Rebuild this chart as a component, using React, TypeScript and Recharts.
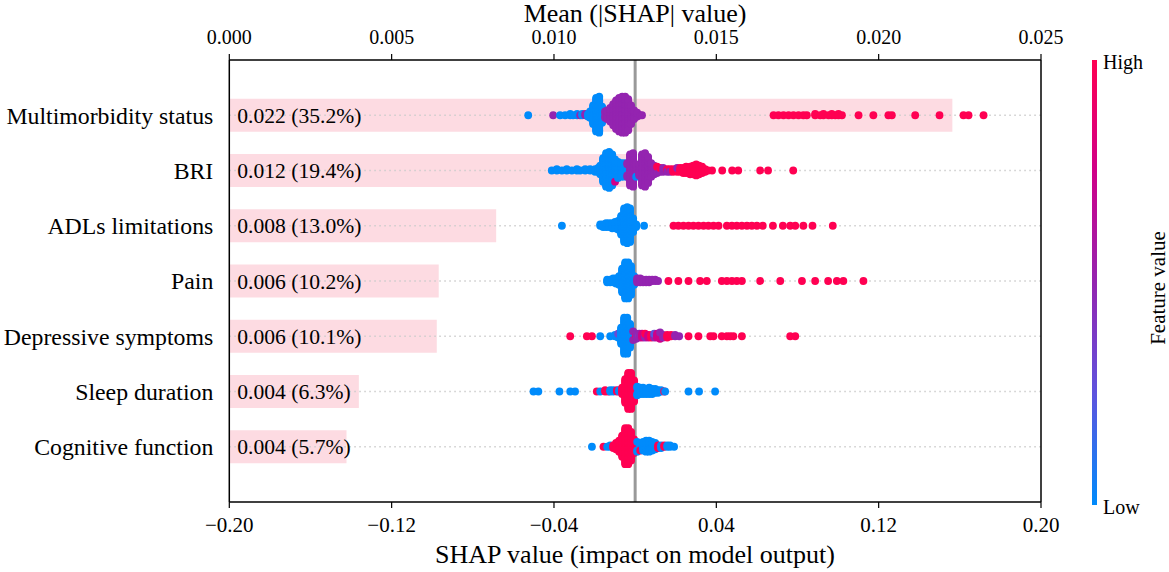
import React from "react";
import {
  ScatterChart,
  Scatter,
  XAxis,
  YAxis,
  ReferenceArea,
  ReferenceLine,
} from "recharts";

const FONT = '"Liberation Serif", "Times New Roman", serif';

// Features, top to bottom
const features = [
  "Multimorbidity status",
  "BRI",
  "ADLs limitations",
  "Pain",
  "Depressive symptoms",
  "Sleep duration",
  "Cognitive function",
];

// Mean |SHAP| per feature (top axis) and its share of the total
const meanAbsShap = [0.02227, 0.01227, 0.00822, 0.00645, 0.00639, 0.00399, 0.00361];
const meanPct = [35.2, 19.4, 13.0, 10.2, 10.1, 6.3, 5.7];

const shapTicks = [-0.2, -0.12, -0.04, 0.04, 0.12, 0.2];
const meanTicks = [0, 0.005, 0.01, 0.015, 0.02, 0.025];

// [SHAP value, number of samples, feature value 0 (low) .. 1 (high)]
type Group = [number, number, number];

const multimorbidity: Group[] = [
  [-0.0527, 1, 0], [-0.0404, 1, 0.5], [-0.037, 1, 0], [-0.0345, 1, 0], [-0.032, 2, 0],
  [-0.0306, 1, 0], [-0.0286, 2, 0], [-0.0271, 1, 0.5], [-0.0261, 2, 0], [-0.0246, 2, 0.5],
  [-0.0232, 3, 0], [-0.0222, 6, 0], [-0.0207, 16, 0], [-0.0192, 28, 0], [-0.0177, 30, 0],
  [-0.0163, 14, 0], [-0.0148, 2, 0], [-0.0148, 4, 0.5], [-0.0138, 8, 0.5], [-0.0123, 12, 0.5],
  [-0.0108, 18, 0.5], [-0.0094, 24, 0.5], [-0.0079, 28, 0.5], [-0.0064, 30, 0.5], [-0.0049, 30, 0.5],
  [-0.0034, 26, 0.5], [-0.002, 16, 0.5], [-0.0005, 8, 0.5], [0.001, 4, 0.5], [0.0025, 1, 0.5],
  [0.0034, 1, 0.5],
  [0.0682, 1, 1], [0.0706, 1, 1], [0.0731, 1, 1], [0.0756, 1, 1], [0.078, 1, 1],
  [0.0805, 1, 1], [0.0829, 1, 1], [0.0846, 1, 1], [0.0887, 2, 1], [0.0912, 1, 1],
  [0.0928, 2, 1], [0.0953, 1, 1], [0.0969, 2, 1], [0.0986, 1, 1], [0.1002, 2, 1],
  [0.1019, 1, 1], [0.1101, 1, 1], [0.1174, 1, 1], [0.1248, 1, 1], [0.1265, 1, 1],
  [0.138, 1, 1], [0.15, 1, 1], [0.1618, 1, 1], [0.1643, 1, 1], [0.1717, 1, 1],
];

const bri: Group[] = [
  [-0.0411, 1, 0], [-0.0386, 2, 0], [-0.0361, 1, 0], [-0.0337, 2, 0], [-0.0312, 1, 0],
  [-0.0287, 2, 0], [-0.0271, 1, 0], [-0.0246, 2, 0], [-0.0222, 2, 0], [-0.0197, 3, 0],
  [-0.0182, 4, 0], [-0.0172, 8, 0], [-0.0158, 20, 0], [-0.0143, 28, 0], [-0.0128, 30, 0],
  [-0.0113, 26, 0], [-0.0099, 18, 0], [-0.0099, 1, 0.75], [-0.0084, 14, 0], [-0.0069, 12, 0],
  [-0.0054, 12, 0], [-0.0039, 8, 0], [-0.0039, 4, 0.5], [-0.0025, 26, 0.5], [-0.001, 28, 0.5],
  [0.0005, 10, 0.5], [0.0005, 1, 0], [0.002, 10, 0.5], [0.0034, 26, 0.5], [0.0049, 28, 0.5],
  [0.0064, 22, 0.5], [0.0079, 12, 0.5], [0.0094, 8, 0.5], [0.0108, 5, 0.5], [0.0108, 1, 1],
  [0.0123, 3, 0.5], [0.0123, 1, 1], [0.0138, 2, 1], [0.0138, 2, 0.5], [0.0158, 2, 1],
  [0.0158, 1, 0.5], [0.0172, 2, 1], [0.0172, 1, 0.5], [0.0187, 3, 1], [0.0207, 3, 1],
  [0.0207, 1, 0.5], [0.0222, 4, 1], [0.0237, 5, 1], [0.0251, 6, 1], [0.0271, 7, 1],
  [0.0286, 8, 1], [0.0301, 10, 1], [0.0315, 8, 1], [0.033, 6, 1], [0.0345, 3, 1],
  [0.036, 1, 1], [0.0379, 1, 1], [0.0429, 1, 1], [0.0478, 1, 1], [0.0508, 1, 1],
  [0.0616, 1, 1], [0.0655, 1, 1], [0.0779, 1, 1],
];

const adls: Group[] = [
  [-0.0361, 1, 0], [-0.0172, 2, 0], [-0.0158, 3, 0], [-0.0143, 4, 0], [-0.0128, 4, 0],
  [-0.0113, 5, 0], [-0.0099, 6, 0], [-0.0084, 8, 0], [-0.0069, 16, 0], [-0.0054, 28, 0],
  [-0.0039, 30, 0], [-0.0025, 28, 0], [-0.001, 12, 0], [0.0005, 3, 0], [0.0044, 1, 0],
  [0.0189, 1, 1], [0.0213, 1, 1], [0.0238, 1, 1], [0.0263, 1, 1], [0.0287, 1, 1],
  [0.0312, 1, 1], [0.0337, 1, 1], [0.0361, 1, 1], [0.0386, 1, 1], [0.0411, 1, 1],
  [0.0452, 1, 1], [0.0477, 1, 1], [0.0501, 1, 1], [0.0526, 1, 1], [0.0551, 1, 1],
  [0.0575, 1, 1], [0.06, 1, 1], [0.0629, 1, 1], [0.0679, 1, 1], [0.0728, 1, 1],
  [0.0764, 1, 1], [0.0789, 1, 1], [0.0829, 1, 1], [0.0874, 1, 1], [0.0974, 1, 1],
];

const pain: Group[] = [
  [-0.0138, 3, 0], [-0.0123, 3, 0], [-0.0108, 4, 0], [-0.0094, 5, 0], [-0.0079, 8, 0],
  [-0.0064, 20, 0], [-0.0049, 30, 0], [-0.0034, 30, 0], [-0.002, 24, 0], [-0.0005, 8, 0],
  [0.001, 4, 0.5], [0.0025, 4, 0.5], [0.0039, 3, 0.5], [0.0054, 3, 0.5], [0.0069, 3, 0.5],
  [0.0084, 2, 0.5], [0.0099, 2, 0.5], [0.0113, 1, 0.5],
  [0.0164, 1, 1], [0.0213, 1, 1], [0.0263, 1, 1], [0.032, 1, 1], [0.0353, 1, 1],
  [0.0427, 1, 1], [0.0452, 1, 1], [0.0477, 1, 1], [0.0501, 1, 1], [0.0526, 1, 1],
  [0.0616, 1, 1], [0.0715, 1, 1], [0.0822, 1, 1], [0.0887, 1, 1], [0.0951, 1, 1],
  [0.0994, 1, 1], [0.1026, 1, 1], [0.1125, 1, 1],
];

const depressive: Group[] = [
  [-0.032, 1, 1], [-0.0238, 1, 1], [-0.0213, 1, 1], [-0.0172, 1, 0], [-0.0123, 1, 0],
  [-0.0099, 2, 0], [-0.0084, 3, 0], [-0.0084, 1, 0.3], [-0.0069, 14, 0], [-0.0054, 30, 0],
  [-0.0039, 30, 0], [-0.0025, 20, 0], [-0.001, 6, 0], [-0.001, 2, 0.5], [0.0005, 3, 1],
  [0.0005, 2, 0.5], [0.002, 2, 0.3], [0.002, 2, 0.5], [0.0034, 4, 0.75], [0.0049, 3, 0.5],
  [0.0049, 1, 1], [0.0064, 3, 0.75], [0.0079, 3, 1], [0.0094, 3, 0.5], [0.0094, 1, 0.25],
  [0.0108, 4, 0.75], [0.0123, 5, 0.75], [0.0123, 1, 0.5], [0.0138, 3, 0.5], [0.0158, 3, 1],
  [0.0177, 2, 1], [0.0197, 2, 0.5], [0.0217, 1, 0.5],
  [0.0263, 1, 1], [0.0312, 1, 1], [0.037, 1, 1], [0.0386, 1, 1], [0.0427, 1, 1],
  [0.0452, 1, 1], [0.0468, 1, 1], [0.0484, 1, 1], [0.0526, 1, 1], [0.0764, 1, 1],
  [0.0789, 1, 1],
];

const sleep: Group[] = [
  [-0.0501, 1, 0], [-0.0477, 1, 0], [-0.0373, 1, 0], [-0.032, 1, 0], [-0.0296, 1, 0],
  [-0.0189, 1, 1], [-0.0172, 1, 0], [-0.0148, 2, 1], [-0.0133, 1, 1], [-0.0123, 2, 0],
  [-0.0108, 2, 0], [-0.009, 2, 1], [-0.0079, 2, 0], [-0.0064, 6, 1], [-0.0049, 20, 1],
  [-0.0034, 30, 1], [-0.002, 30, 1], [-0.0005, 18, 1], [0.001, 4, 1], [0.001, 4, 0],
  [0.0025, 6, 0], [0.0039, 6, 0], [0.0054, 5, 0], [0.0069, 6, 0], [0.0084, 5, 0],
  [0.0099, 4, 0], [0.0113, 3, 0], [0.0128, 2, 0], [0.0143, 1, 1], [0.0148, 1, 0],
  [0.0263, 1, 0], [0.0315, 1, 0], [0.0394, 1, 0],
];

const cognitive: Group[] = [
  [-0.0213, 1, 0], [-0.0156, 1, 1], [-0.0138, 1, 0], [-0.0123, 2, 0], [-0.0108, 3, 1],
  [-0.0094, 6, 1], [-0.0079, 10, 1], [-0.0064, 18, 1], [-0.0049, 30, 1], [-0.0034, 30, 1],
  [-0.002, 24, 1], [-0.0005, 12, 1], [0.001, 6, 1], [0.001, 3, 0], [0.0025, 6, 0],
  [0.0025, 1, 1], [0.0039, 8, 0], [0.0054, 10, 0], [0.0069, 10, 0], [0.0084, 8, 0],
  [0.0099, 6, 0], [0.0113, 3, 1], [0.0128, 3, 0], [0.0143, 2, 1], [0.0158, 2, 0],
  [0.0172, 2, 0], [0.0192, 1, 0],
];

const rows = [multimorbidity, bri, adls, pain, depressive, sleep, cognitive];

// shap red_blue colormap, approximated
const cmapStops: [number, number[]][] = [
  [0, [0, 139, 251]],
  [0.25, [94, 83, 222]],
  [0.5, [148, 36, 176]],
  [0.75, [208, 0, 136]],
  [1, [255, 0, 82]],
];

function featureColor(f: number) {
  for (let i = 1; i < cmapStops.length; i++) {
    const [t1, c1] = cmapStops[i];
    const [t0, c0] = cmapStops[i - 1];
    if (f <= t1) {
      const k = (f - t0) / (t1 - t0);
      const c = c0.map((v, j) => Math.round(v + (c1[j] - v) * k));
      return `rgb(${c[0]},${c[1]},${c[2]})`;
    }
  }
  return "rgb(255,0,82)";
}

// beeswarm stacking like shap: alternate up/down inside each column,
// then scale so the tallest column fills 0.9 * row height
const ROW_HEIGHT = 0.4;
function swarm(groups: Group[], row: number) {
  const layers = new Map<number, number>();
  const raw: { v: number; f: number; off: number }[] = [];
  groups.forEach(([v, n, f]) => {
    for (let k = 0; k < n; k++) {
      const layer = layers.get(v) ?? 0;
      layers.set(v, layer + 1);
      raw.push({ v, f, off: Math.ceil(layer / 2) * ((layer % 2) * 2 - 1) });
    }
  });
  const maxOff = Math.max(...raw.map((p) => p.off)) + 1;
  return raw.map((p) => ({
    x: p.v,
    y: row - (p.off * 0.9 * ROW_HEIGHT) / maxOff,
    fill: featureColor(p.f),
  }));
}

const fmtShap = (v: number) => (v < 0 ? "\u2212" + Math.abs(v).toFixed(2) : v.toFixed(2));

const Dot = (props: any) => (
  <circle cx={props.cx} cy={props.cy} r={3.9} fill={props.payload.fill} />
);

// bar ends on the top axis; the rectangles themselves are ReferenceAreas
const barEnds = meanAbsShap.map((m, i) => ({ m, y: i }));
const NoMark = () => <g />;

export default function App() {
  const points = rows.flatMap((g, i) => swarm(g, i));
  const gradient = cmapStops
    .map(([t, c]) => `rgb(${c[0]},${c[1]},${c[2]}) ${t * 100}%`)
    .join(", ");

  return (
    <div
      style={{
        position: "absolute",
        left: 0,
        top: 0,
        width: 1169,
        height: 572,
        background: "#fff",
        fontFamily: FONT,
      }}
    >
      <ScatterChart
        width={1169}
        height={572}
        margin={{ top: 30, right: 128, bottom: 30, left: 29.3 }}
        style={{ fontFamily: FONT }}
      >
        <XAxis
          xAxisId="top"
          dataKey="m"
          orientation="top"
          type="number"
          domain={[0, 0.025]}
          ticks={meanTicks}
          interval={0}
          allowDataOverflow
          height={30}
          tickFormatter={(v: number) => v.toFixed(3)}
          tick={{ fontSize: 20, fill: "#000", fontFamily: FONT }}
          tickSize={6}
          tickMargin={10}
          axisLine={{ stroke: "#000", strokeWidth: 1.5 }}
          tickLine={{ stroke: "#000", strokeWidth: 1.2 }}
        />
        <XAxis
          dataKey="x"
          type="number"
          domain={[-0.2, 0.2]}
          ticks={shapTicks}
          interval={0}
          allowDataOverflow
          height={40}
          tickFormatter={fmtShap}
          tick={{ fontSize: 21, fill: "#000", fontFamily: FONT }}
          tickSize={6}
          tickMargin={9}
          axisLine={{ stroke: "#000", strokeWidth: 1.5 }}
          tickLine={{ stroke: "#000", strokeWidth: 1.2 }}
        />
        <YAxis
          dataKey="y"
          type="number"
          domain={[-1, 7]}
          reversed
          allowDataOverflow
          ticks={[0, 1, 2, 3, 4, 5, 6]}
          interval={0}
          width={200}
          tickFormatter={(i: number) => features[i]}
          tick={{ fontSize: 23.8, fill: "#000", fontFamily: FONT }}
          tickLine={false}
          tickSize={0}
          tickMargin={16}
          axisLine={{ stroke: "#000", strokeWidth: 1.5 }}
        />

        {meanAbsShap.map((v, i) => (
          <ReferenceArea
            key={"bar" + i}
            xAxisId="top"
            x1={0}
            x2={v}
            y1={i - 0.3}
            y2={i + 0.3}
            fill="#fddbe2"
            fillOpacity={1}
            stroke="none"
            label={{
              value: `${v.toFixed(3)} (${meanPct[i].toFixed(1)}%)`,
              position: "insideLeft",
              offset: 8,
              fill: "#000",
              fontSize: 21.6,
              fontFamily: FONT,
            }}
          />
        ))}

        {features.map((f, i) => (
          <ReferenceLine
            key={"row" + f}
            y={i}
            stroke="#cccccc"
            strokeWidth={1.5}
            strokeDasharray="1.5 3.5"
          />
        ))}

        <Scatter
          xAxisId="top"
          data={barEnds}
          shape={NoMark}
          isAnimationActive={false}
        />
        <Scatter data={points} shape={Dot} isAnimationActive={false} />

        <ReferenceLine x={0} stroke="#999999" strokeWidth={3} />
        <ReferenceLine x={0.2} stroke="#000" strokeWidth={1.5} />
      </ScatterChart>

      <div
        style={{
          position: "absolute",
          left: 1092,
          top: 60,
          width: 5,
          height: 445,
          background: `linear-gradient(to top, ${gradient})`,
        }}
      />

      <svg
        width={1169}
        height={572}
        style={{ position: "absolute", left: 0, top: 0, pointerEvents: "none" }}
        fontFamily={FONT}
      >
        <text x={635} y={21.5} fontSize={26} textAnchor="middle" fill="#000">
          Mean (|SHAP| value)
        </text>
        <text x={635} y={562.5} fontSize={26} textAnchor="middle" fill="#000">
          SHAP value (impact on model output)
        </text>
        <text x={1103} y={68.5} fontSize={20} fill="#000">
          High
        </text>
        <text x={1103} y={514} fontSize={20} fill="#000">
          Low
        </text>
        <text
          x={1164.5}
          y={288}
          fontSize={21}
          textAnchor="middle"
          fill="#000"
          transform="rotate(-90 1164.5 288)"
        >
          Feature value
        </text>
      </svg>
    </div>
  );
}
